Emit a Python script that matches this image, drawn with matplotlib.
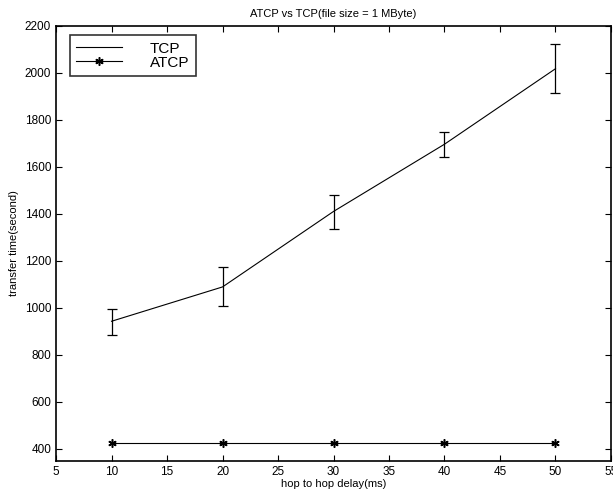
import matplotlib.pyplot as plt
from matplotlib.lines import Line2D

# Данные
delay = [10, 20, 30, 40, 50]
tcp_mean = [943, 1089, 1410, 1696, 2017]
tcp_low = [886, 1007, 1337, 1641, 1915]
tcp_high = [997, 1173, 1482, 1747, 2123]
atcp_mean = [427, 427, 427, 427, 427]

x_ticks = [5, 10, 15, 20, 25, 30, 35, 40, 45, 50, 55]
y_ticks = [400, 600, 800, 1000, 1200, 1400, 1600, 1800, 2000, 2200]

plt.rcParams['font.family'] = ['Liberation Sans', 'DejaVu Sans']

fig = plt.figure(figsize=(6.13, 5.0), dpi=100)
ax = fig.add_axes([0.0914, 0.0786, 0.9053, 0.870])

star = (6, 2, 0)  # звёздочка как в Matlab

err = [[m - lo for m, lo in zip(tcp_mean, tcp_low)],
       [hi - m for m, hi in zip(tcp_mean, tcp_high)]]
ax.errorbar(delay, tcp_mean, yerr=err, color='black', linewidth=0.8,
            elinewidth=0.9, capsize=3.5, capthick=0.9)
ax.plot(delay, atcp_mean, color='black', linewidth=0.8, marker=star,
        markersize=6, markeredgewidth=1.1)

ax.set_xlim(5, 55)
ax.set_ylim(350, 2200)
ax.set_xticks(x_ticks)
ax.set_yticks(y_ticks)
ax.tick_params(direction='in', top=True, right=True, labelsize=8.5, length=4, width=0.8)
for s in ax.spines.values():
    s.set_linewidth(1.2)

ax.set_title('ATCP vs TCP(file size = 1 MByte)', fontsize=8, pad=6)
ax.set_xlabel('hop to hop delay(ms)', fontsize=8, labelpad=1)
ax.set_ylabel('transfer time(second)', fontsize=8, labelpad=4)

handles = [Line2D([], [], color='black', linewidth=0.8),
           Line2D([], [], color='black', linewidth=0.8, marker=star,
                  markersize=6, markeredgewidth=1.1)]
leg = ax.legend(handles, ['TCP', 'ATCP'], loc='upper left',
                bbox_to_anchor=(0.025, 0.978),
                fontsize=11, frameon=True, fancybox=False, edgecolor='black',
                handlelength=3.0, handletextpad=1.8, borderpad=0.42,
                labelspacing=0.0, borderaxespad=0.0)
leg.get_frame().set_linewidth(1.2)

plt.savefig('out.png', dpi=100)
